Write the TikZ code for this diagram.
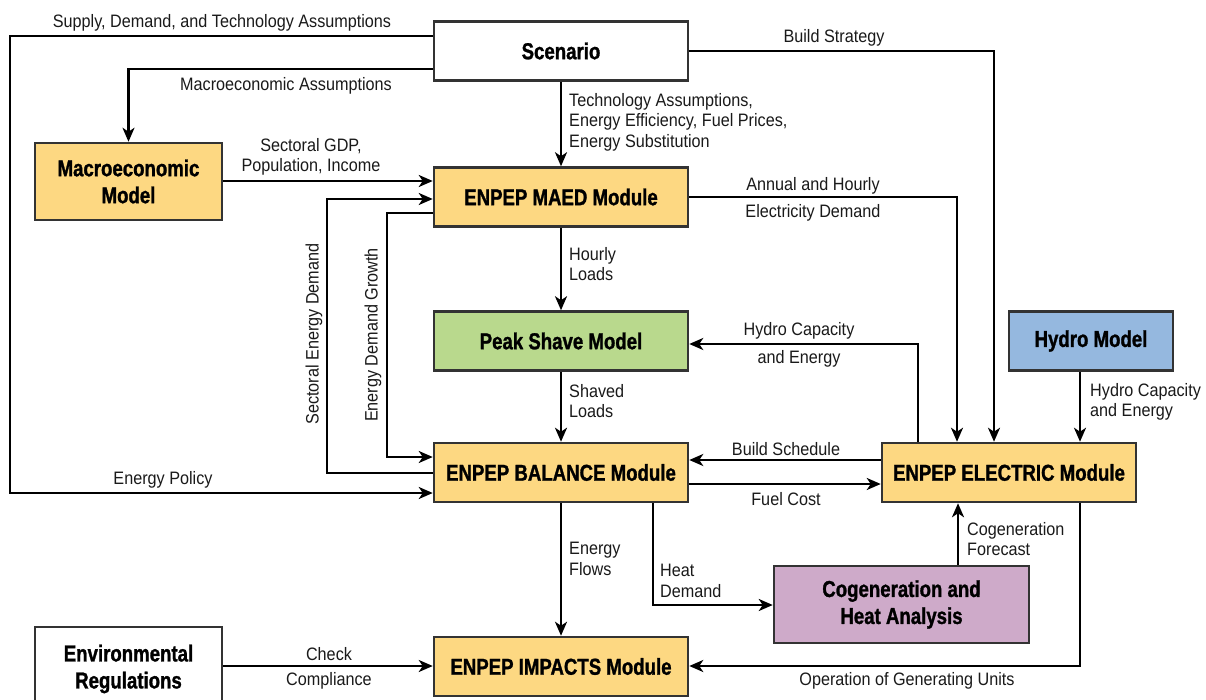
\documentclass[tikz,border=0pt]{standalone}
\usepackage{fontspec}
\setmainfont{Liberation Sans}[FakeStretch=0.9]
\newfontfamily\bfc{Liberation Sans}[FakeStretch=0.81,FakeBold=1.2]
\usetikzlibrary{arrows.meta}
\definecolor{bordergray}{HTML}{333333}
\definecolor{yel}{HTML}{FDD882}
\definecolor{grn}{HTML}{B9D98D}
\definecolor{blu}{HTML}{95B8DF}
\definecolor{pur}{HTML}{CEAAC9}
\definecolor{txt}{HTML}{1A1A1A}
\tikzset{
  box/.style={draw=bordergray, line width=2.5pt, minimum width=254pt, minimum height=59pt,
    font=\bfc\bfseries\fontsize{23}{27}\selectfont, align=center, inner sep=0pt, text=black},
  lbl/.style={font=\fontsize{18}{20.5}\selectfont, inner sep=0pt, text=txt, yshift=-2pt},
  conn/.style={line width=2.4pt, draw=black},
  arr/.style={conn, -{Stealth[length=14pt,width=12pt,inset=4pt]}},
}
\begin{document}
\begin{tikzpicture}[x=1pt,y=-1pt]
\useasboundingbox (0,0) rectangle (1206,700);
\clip (0,0) rectangle (1206,700);
\fill[white] (0,0) rectangle (1206,700);
% nodes
\node[box, fill=white] (scen) at (561,51) {Scenario};
\node[box, fill=yel, minimum width=187pt, minimum height=77pt] (macro) at (128.5,181.5) {Macroeconomic\\Model};
\node[box, fill=yel] (maed) at (561,197) {ENPEP MAED Module};
\node[box, fill=grn] (peak) at (561,341) {Peak Shave Model};
\node[box, fill=yel] (bal) at (561,472.5) {ENPEP BALANCE Module};
\node[box, fill=yel] (elec) at (1009,472.5) {ENPEP ELECTRIC Module};
\node[box, fill=blu, minimum width=164pt] (hydro) at (1091,341) {Hydro Model};
\node[box, fill=pur, minimum width=255pt, minimum height=77pt] (cogen) at (901.5,604.5) {Cogeneration and\\Heat Analysis};
\node[box, fill=yel] (imp) at (561,666.5) {ENPEP IMPACTS Module};
\node[box, fill=white, minimum width=187pt, minimum height=84pt] (env) at (128.5,669) {Environmental\\Regulations};
% connectors
\draw[arr] (scen.west |- 0,36) -- (10,36) -- (10,493) -- (bal.west |- 0,493);
\draw[arr] (scen.west |- 0,69) -- (macro.north |- 0,69) -- (macro.north);
\draw[arr] (scen.south) -- (maed.north);
\draw[arr] (scen.east) -- (994,51) -- (elec.north -| 994,0);
\draw[arr] (macro.east |- 0,181) -- (maed.west |- 0,181);
\draw[arr] (bal.west |- 0,473) -- (327,473) -- (327,199) -- (maed.west |- 0,199);
\draw[arr] (maed.west |- 0,213) -- (387,213) -- (387,457) -- (bal.west |- 0,457);
\draw[arr] (maed.south) -- (peak.north);
\draw[arr] (peak.south) -- (bal.north);
\draw[arr] (maed.east) -- (957,197) -- (elec.north -| 957,0);
\draw[arr] (elec.north -| 918,0) -- (918,344) -- (peak.east |- 0,344);
\draw[arr] (hydro.south -| 1080,0) -- (elec.north -| 1080,0);
\draw[arr] (elec.west |- 0,460) -- (bal.east |- 0,460);
\draw[arr] (bal.east |- 0,484) -- (elec.west |- 0,484);
\draw[arr] (bal.south) -- (imp.north);
\draw[arr] (bal.south -| 653,0) -- (653,605) -- (cogen.west |- 0,605);
\draw[arr] (cogen.north -| 958,0) -- (elec.south -| 958,0);
\draw[arr] (elec.south -| 1080,0) -- (1080,666) -- (imp.east |- 0,666);
\draw[arr] (env.east |- 0,666) -- (imp.west |- 0,666);
% labels
\node[lbl] (l1) at (222,21) {Supply, Demand, and Technology Assumptions};
\node[lbl] (l2) at (286,84) {Macroeconomic Assumptions};
\node[lbl, anchor=west, align=left] (l3) at (569,120) {Technology Assumptions,\\Energy Efficiency, Fuel Prices,\\Energy Substitution};
\node[lbl] (l4) at (834,36) {Build Strategy};
\node[lbl, align=center] (l5) at (311,155) {Sectoral GDP,\\Population, Income};
\node[lbl] (l6) at (813,184) {Annual and Hourly};
\node[lbl] (l7) at (813,211) {Electricity Demand};
\node[lbl, rotate=90] (l8) at (314,332) {Sectoral Energy Demand};
\node[lbl, rotate=90] (l9) at (373,333) {Energy Demand Growth};
\node[lbl, anchor=west, align=left] (l10) at (569,262) {Hourly\\Loads};
\node[lbl] (l11) at (799,329) {Hydro Capacity};
\node[lbl] (l12) at (799,357) {and Energy};
\node[lbl, anchor=west, align=left] (l13) at (569,399) {Shaved\\Loads};
\node[lbl, anchor=west, align=left] (l14) at (1090,400) {Hydro Capacity\\and Energy};
\node[lbl] (l15) at (786,447) {Build Schedule};
\node[lbl] (l16) at (163,478) {Energy Policy};
\node[lbl] (l17) at (786,497) {Fuel Cost};
\node[lbl, anchor=west, align=left] (l18) at (967,537) {Cogeneration\\Forecast};
\node[lbl, anchor=west, align=left] (l19) at (569,557) {Energy\\Flows};
\node[lbl, anchor=west, align=left] (l20) at (660,579) {Heat\\Demand};
\node[lbl] (l21) at (329,652) {Check};
\node[lbl] (l22) at (329,679) {Compliance};
\node[lbl] (l23) at (907,679) {Operation of Generating Units};
\end{tikzpicture}
\end{document}
